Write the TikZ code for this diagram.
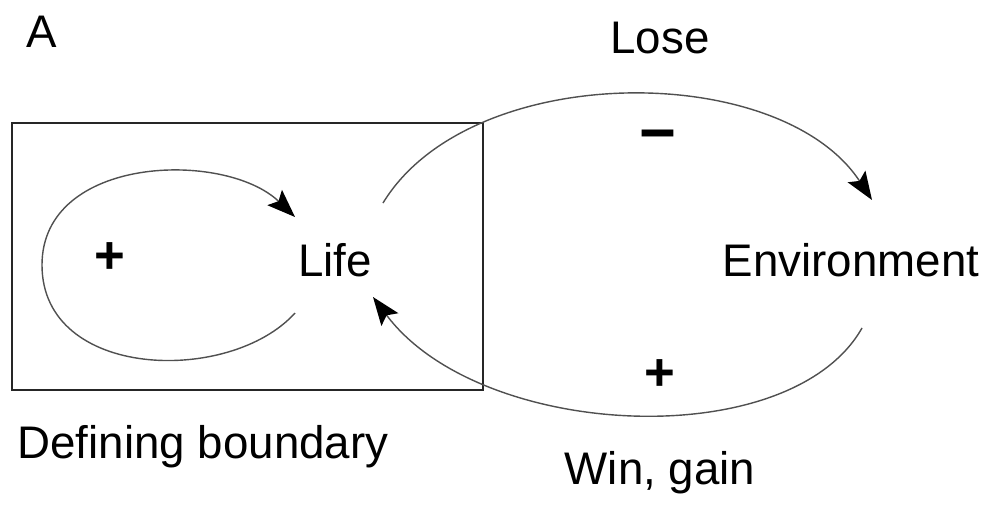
\documentclass[tikz,border=0pt]{standalone}
\usepackage{fontspec}
\setmainfont{Liberation Sans}
\usepackage{xcolor}
\usepackage{tikz}
\usetikzlibrary{arrows.meta,positioning,calc}
\definecolor{loopgray}{HTML}{505050}
\tikzset{
  labeltext/.style={font=\fontsize{26}{31}\selectfont, inner sep=0pt},
  signtext/.style={font=\fontsize{30}{34}\selectfont\bfseries, inner sep=0pt},
  boundbox/.style={rectangle, draw=black!85, line width=0.7pt,
    minimum width=9.42cm, minimum height=5.34cm, inner sep=0pt},
  feedarrow/.style={-{Stealth[length=16pt,width=12pt,inset=3pt,black]},
    line width=0.8pt, color=loopgray},
}

\begin{document}
\begin{tikzpicture}[x=0.02cm, y=-0.02cm]
\useasboundingbox (0,0) rectangle (989,504);
\node[boundbox] (boundary) at (247.5,256.5) {};
\node[labeltext] (panel) at (42,32) {A};
\node[labeltext] (life) at (335,260) {Life};
\node[labeltext] (env) at (851,260) {Environment};
\node[labeltext] (lose) at (660,38) {Lose};
\node[labeltext] (win) at (660,473) {Win, gain};
\node[labeltext] (bndlabel) at (203,447) {Defining boundary};
\node[signtext] (selfplus) at (110,258) {+};
\node[signtext, font=\fontsize{36}{40}\selectfont\bfseries] (minus) at (658,142) {−};
\node[signtext] (gainplus) at (660,375) {+};
% arc end points round the nodes
\coordinate (loopout) at (295,313);
\coordinate (loopin) at (295,217);
\coordinate (loopleft) at (42,265);
\coordinate (loseout) at (383,203);
\coordinate (losein) at (872,200);
\coordinate (gainout) at (862,328);
\coordinate (gainin) at (373,297);
\draw[feedarrow] (loopout) .. controls (230,385) and (42,380) .. (loopleft)
  .. controls (42,155) and (225,150) .. (loopin);
\draw[feedarrow] (loseout) .. controls (470,60) and (780,60) .. (losein);
\draw[feedarrow] (gainout) .. controls (790,455) and (480,440) .. (gainin);
\end{tikzpicture}
\end{document}
